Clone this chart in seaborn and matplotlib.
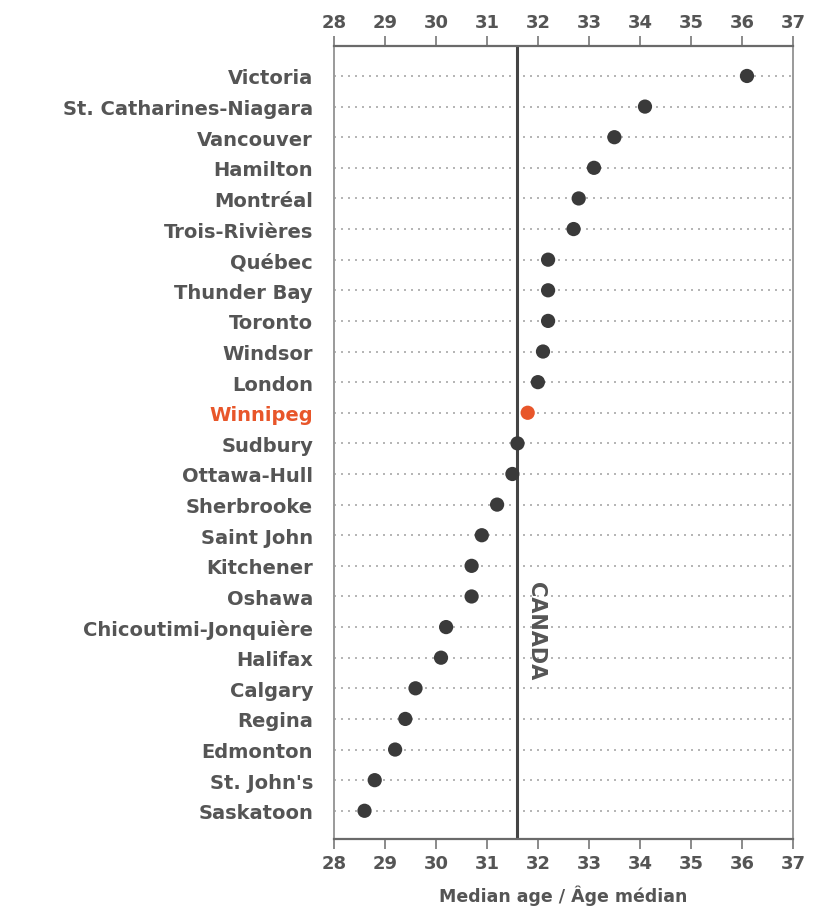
import pandas as pd
import matplotlib.pyplot as plt
import seaborn as sns

# Median age by census metropolitan area
cities = ["Victoria", "St. Catharines-Niagara", "Vancouver", "Hamilton", "Montréal",
          "Trois-Rivières", "Québec", "Thunder Bay", "Toronto", "Windsor", "London",
          "Winnipeg", "Sudbury", "Ottawa-Hull", "Sherbrooke", "Saint John", "Kitchener",
          "Oshawa", "Chicoutimi-Jonquière", "Halifax", "Calgary", "Regina", "Edmonton",
          "St. John's", "Saskatoon"]
median_age = [36.1, 34.1, 33.5, 33.1, 32.8, 32.7, 32.2, 32.2, 32.2, 32.1, 32.0,
              31.8, 31.6, 31.5, 31.2, 30.9, 30.7, 30.7, 30.2, 30.1, 29.6, 29.4,
              29.2, 28.8, 28.6]
canada_median = 31.6
highlight = "Winnipeg"
x_ticks = [28, 29, 30, 31, 32, 33, 34, 35, 36, 37]

df = pd.DataFrame({"city": cities, "age": median_age})
df["pos"] = range(len(df))
df["grp"] = ["hi" if c == highlight else "other" for c in df["city"]]

sns.set_style("white")
plt.rcParams["font.family"] = ["DejaVu Sans"]

text_col = "#555555"
dot_col = "#3a3a3a"
hi_col = "#e8562a"

fig = plt.figure(figsize=(8.39, 9.12), dpi=100)
ax = fig.add_axes([0.398, 0.079, 0.547, 0.8695])

sns.scatterplot(data=df, x="age", y="pos", hue="grp",
                palette={"other": dot_col, "hi": hi_col},
                s=105, edgecolor="none", legend=False, ax=ax, zorder=3)

# national median
ax.axvline(canada_median, color="#444444", lw=2.2, zorder=2)
ax.text(canada_median + 0.36, 18.1, "CANADA", rotation=270, ha="center", va="center",
        fontsize=15, fontweight="bold", color=text_col)

ax.set_xlim(28, 37)
ax.set_ylim(24.92, -0.98)
ax.set_xticks(x_ticks)
ax.set_yticks(df["pos"])
ax.set_yticklabels(cities)

ax.grid(axis="y", linestyle=(0, (1.2, 3.0)), color="#a8a8a8", linewidth=1.2)
ax.grid(axis="x", visible=False)

ax.tick_params(axis="x", top=True, labeltop=True, bottom=True, labelbottom=True,
               direction="out", length=7, width=1.2, color="#777777",
               labelsize=13, labelcolor=text_col, pad=4)
ax.tick_params(axis="y", length=0, pad=15, labelsize=14, labelcolor=text_col)
for lbl in ax.get_xticklabels() + ax.get_yticklabels():
    lbl.set_fontweight("bold")
for lbl in ax.get_yticklabels():
    if lbl.get_text() == highlight:
        lbl.set_color(hi_col)

for side in ["top", "bottom"]:
    ax.spines[side].set_color("#6a6a6a")
    ax.spines[side].set_linewidth(1.6)
for side in ["left", "right"]:
    ax.spines[side].set_color("#9a9a9a")
    ax.spines[side].set_linewidth(1.4)

ax.set_ylabel("")
ax.set_xlabel("Median age / Âge médian", fontsize=12.5, fontweight="bold",
              color=text_col, labelpad=9)

plt.savefig("out.png", dpi=100)
